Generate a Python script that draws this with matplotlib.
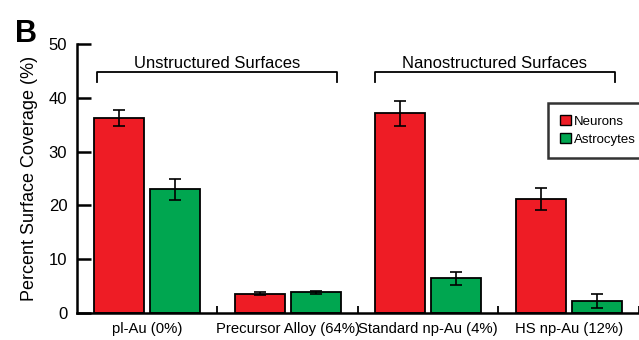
import numpy as np
import matplotlib.pyplot as plt
from matplotlib.patches import Patch

# data
categories = ['pl-Au (0%)', 'Precursor Alloy (64%)', 'Standard np-Au (4%)', 'HS np-Au (12%)']
neurons = [36.2, 3.7, 37.1, 21.2]
neurons_err = [1.5, 0.3, 2.3, 2.0]
astrocytes = [23.0, 3.9, 6.5, 2.3]
astrocytes_err = [1.9, 0.3, 1.2, 1.3]
group_names = ['Unstructured Surfaces', 'Nanostructured Surfaces']
group_spans = [(-0.36, 1.35), (1.62, 3.33)]

red = '#EE1C25'
green = '#00A650'

plt.rcParams['font.family'] = ['Liberation Sans', 'DejaVu Sans']

fig = plt.figure(figsize=(6.39, 3.40), dpi=100)
ax = fig.add_axes([0.1205, 0.078, 0.8795, 0.794])

x = np.arange(len(categories))
w = 0.355
off = 0.2
err_kw = dict(ecolor='black', elinewidth=1.2, capsize=4, capthick=1.2)
ax.bar(x - off, neurons, w, yerr=neurons_err, color=red, edgecolor='black',
       linewidth=1.3, error_kw=err_kw, label='Neurons')
ax.bar(x + off, astrocytes, w, yerr=astrocytes_err, color=green, edgecolor='black',
       linewidth=1.3, error_kw=err_kw, label='Astrocytes')

ax.set_xlim(-0.5, 3.5)
ax.set_ylim(0, 50)
ax.set_yticks([0, 10, 20, 30, 40, 50])
ax.set_xticks(x)
ax.set_xticklabels(categories)
ax.set_xticks(x + 0.5, minor=True)
ax.tick_params(axis='x', which='major', length=0, labelsize=10.7, pad=6)
ax.tick_params(axis='x', which='minor', direction='in', length=5, width=1.3)
ax.tick_params(axis='y', direction='in', length=10, width=1.8, labelsize=12, pad=7)
ax.set_ylabel('Percent Surface Coverage (%)', fontsize=13, labelpad=8)

for s in ['top', 'right']:
    ax.spines[s].set_visible(False)
for s in ['left', 'bottom']:
    ax.spines[s].set_linewidth(1.8)

# group brackets
for name, (a, b) in zip(group_names, group_spans):
    ax.plot([a, a, b, b], [42.9, 44.7, 44.7, 42.9], color='black', lw=1.3,
            clip_on=False)
    ax.text((a + b) / 2, 45.5, name, ha='center', va='baseline', fontsize=12)

handles = [Patch(facecolor=red, edgecolor='black'),
           Patch(facecolor=green, edgecolor='black')]
leg = ax.legend(handles, ['Neurons', 'Astrocytes'], loc='upper left',
                bbox_to_anchor=(0.838, 0.78), fontsize=9.5, frameon=True,
                fancybox=False, edgecolor='black', handlelength=0.85,
                handleheight=0.85, handletextpad=0.2, borderpad=0.9,
                labelspacing=0.4, borderaxespad=0)
leg.get_frame().set_linewidth(1.8)

fig.text(0.0235, 0.876, 'B', fontsize=22, fontweight='bold', va='baseline', ha='left')

fig.savefig('out.png', dpi=100)
